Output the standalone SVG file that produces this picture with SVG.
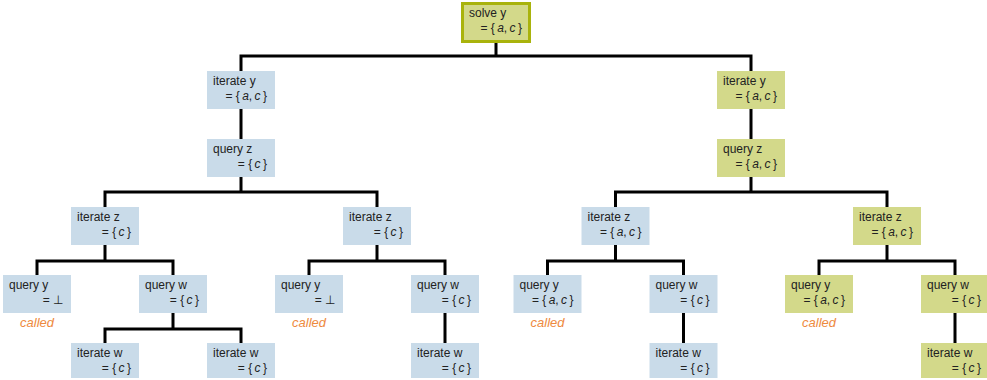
<svg xmlns="http://www.w3.org/2000/svg" width="987" height="380" viewBox="0 0 987 380">
<style>
.b{fill:#c9dbe9}
.g{fill:#d3d98a}
.t{font-family:"Liberation Sans",Arial,sans-serif;font-size:12px;fill:#222}
.i{font-style:italic}
.called{font-family:"Liberation Sans",Arial,sans-serif;font-size:13px;font-style:italic;fill:#ee8a3e;text-anchor:middle}
.c{fill:none;stroke:#000;stroke-width:3;stroke-linejoin:miter}
</style>
<rect width="987" height="380" fill="#fff"/>
<g id="connectors">
<path class="c" d="M496,43V56H241V71M496,56H751V71"/>
<path class="c" d="M241,109V139M751,109V139"/>
<path class="c" d="M241,177V192H105V207M241,192H377V207"/>
<path class="c" d="M751,177V192H615.5V207M751,192H887V207"/>
<path class="c" d="M105,245V261H37V275M105,261H173V275"/>
<path class="c" d="M377,245V261H309V275M377,261H445V275"/>
<path class="c" d="M615.5,245V261H547.5V275M615.5,261H683.5V275"/>
<path class="c" d="M887,245V261H819V275M887,261H955V275"/>
<path class="c" d="M173,313V329H105V343M173,329H241V343"/>
<path class="c" d="M445,313V343M683.5,313V343M955,313V343"/>
</g>
<g id="root">
<rect x="462.5" y="3.5" width="67" height="38" fill="#d3d98a" stroke="#a9b30c" stroke-width="3"/>
<text class="t" x="469" y="17">solve y</text>
<text class="t" x="522" y="32" text-anchor="end">= {&#8201;<tspan class="i">a</tspan>,&#8201;<tspan class="i">c</tspan>&#8201;}</text>
</g>
<g id="n_iy_l"><rect class="b" x="207" y="71" width="68" height="38"/><text class="t" x="213" y="85">iterate y</text><text class="t" x="267" y="100" text-anchor="end">= {&#8201;<tspan class="i">a</tspan>,&#8201;<tspan class="i">c</tspan>&#8201;}</text></g>
<g id="n_iy_r"><rect class="g" x="717" y="71" width="68" height="38"/><text class="t" x="723" y="85">iterate y</text><text class="t" x="777" y="100" text-anchor="end">= {&#8201;<tspan class="i">a</tspan>,&#8201;<tspan class="i">c</tspan>&#8201;}</text></g>
<g id="n_qz_l"><rect class="b" x="207" y="139" width="68" height="38"/><text class="t" x="213" y="153">query z</text><text class="t" x="267" y="168" text-anchor="end">= {&#8201;<tspan class="i">c</tspan>&#8201;}</text></g>
<g id="n_qz_r"><rect class="g" x="717" y="139" width="68" height="38"/><text class="t" x="723" y="153">query z</text><text class="t" x="777" y="168" text-anchor="end">= {&#8201;<tspan class="i">a</tspan>,&#8201;<tspan class="i">c</tspan>&#8201;}</text></g>
<g id="n_iz_1"><rect class="b" x="71" y="207" width="68" height="38"/><text class="t" x="77" y="221">iterate z</text><text class="t" x="131" y="236" text-anchor="end">= {&#8201;<tspan class="i">c</tspan>&#8201;}</text></g>
<g id="n_iz_2"><rect class="b" x="343" y="207" width="68" height="38"/><text class="t" x="349" y="221">iterate z</text><text class="t" x="403" y="236" text-anchor="end">= {&#8201;<tspan class="i">c</tspan>&#8201;}</text></g>
<g id="n_iz_3"><rect class="b" x="581.5" y="207" width="68" height="38"/><text class="t" x="587.5" y="221">iterate z</text><text class="t" x="641.5" y="236" text-anchor="end">= {&#8201;<tspan class="i">a</tspan>,&#8201;<tspan class="i">c</tspan>&#8201;}</text></g>
<g id="n_iz_4"><rect class="g" x="853" y="207" width="68" height="38"/><text class="t" x="859" y="221">iterate z</text><text class="t" x="913" y="236" text-anchor="end">= {&#8201;<tspan class="i">a</tspan>,&#8201;<tspan class="i">c</tspan>&#8201;}</text></g>
<g id="n_qy_1"><rect class="b" x="3" y="275" width="68" height="38"/><text class="t" x="9" y="289">query y</text><text class="t" x="63" y="304" text-anchor="end">= ⊥</text><text class="called" x="37" y="327">called</text></g>
<g id="n_qw_1"><rect class="b" x="139" y="275" width="68" height="38"/><text class="t" x="145" y="289">query w</text><text class="t" x="199" y="304" text-anchor="end">= {&#8201;<tspan class="i">c</tspan>&#8201;}</text></g>
<g id="n_qy_2"><rect class="b" x="275" y="275" width="68" height="38"/><text class="t" x="281" y="289">query y</text><text class="t" x="335" y="304" text-anchor="end">= ⊥</text><text class="called" x="309" y="327">called</text></g>
<g id="n_qw_2"><rect class="b" x="411" y="275" width="68" height="38"/><text class="t" x="417" y="289">query w</text><text class="t" x="471" y="304" text-anchor="end">= {&#8201;<tspan class="i">c</tspan>&#8201;}</text></g>
<g id="n_qy_3"><rect class="b" x="513.5" y="275" width="68" height="38"/><text class="t" x="519.5" y="289">query y</text><text class="t" x="573.5" y="304" text-anchor="end">= {&#8201;<tspan class="i">a</tspan>,&#8201;<tspan class="i">c</tspan>&#8201;}</text><text class="called" x="547.5" y="327">called</text></g>
<g id="n_qw_3"><rect class="b" x="649.5" y="275" width="68" height="38"/><text class="t" x="655.5" y="289">query w</text><text class="t" x="709.5" y="304" text-anchor="end">= {&#8201;<tspan class="i">c</tspan>&#8201;}</text></g>
<g id="n_qy_4"><rect class="g" x="785" y="275" width="68" height="38"/><text class="t" x="791" y="289">query y</text><text class="t" x="845" y="304" text-anchor="end">= {&#8201;<tspan class="i">a</tspan>,&#8201;<tspan class="i">c</tspan>&#8201;}</text><text class="called" x="819" y="327">called</text></g>
<g id="n_qw_4"><rect class="g" x="921" y="275" width="68" height="38"/><text class="t" x="927" y="289">query w</text><text class="t" x="981" y="304" text-anchor="end">= {&#8201;<tspan class="i">c</tspan>&#8201;}</text></g>
<g id="n_iw_1"><rect class="b" x="71" y="343" width="68" height="35"/><text class="t" x="77" y="357">iterate w</text><text class="t" x="131" y="372" text-anchor="end">= {&#8201;<tspan class="i">c</tspan>&#8201;}</text></g>
<g id="n_iw_2"><rect class="b" x="207" y="343" width="68" height="35"/><text class="t" x="213" y="357">iterate w</text><text class="t" x="267" y="372" text-anchor="end">= {&#8201;<tspan class="i">c</tspan>&#8201;}</text></g>
<g id="n_iw_3"><rect class="b" x="411" y="343" width="68" height="35"/><text class="t" x="417" y="357">iterate w</text><text class="t" x="471" y="372" text-anchor="end">= {&#8201;<tspan class="i">c</tspan>&#8201;}</text></g>
<g id="n_iw_4"><rect class="b" x="649.5" y="343" width="68" height="35"/><text class="t" x="655.5" y="357">iterate w</text><text class="t" x="709.5" y="372" text-anchor="end">= {&#8201;<tspan class="i">c</tspan>&#8201;}</text></g>
<g id="n_iw_5"><rect class="g" x="921" y="343" width="68" height="35"/><text class="t" x="927" y="357">iterate w</text><text class="t" x="981" y="372" text-anchor="end">= {&#8201;<tspan class="i">c</tspan>&#8201;}</text></g>
</svg>
